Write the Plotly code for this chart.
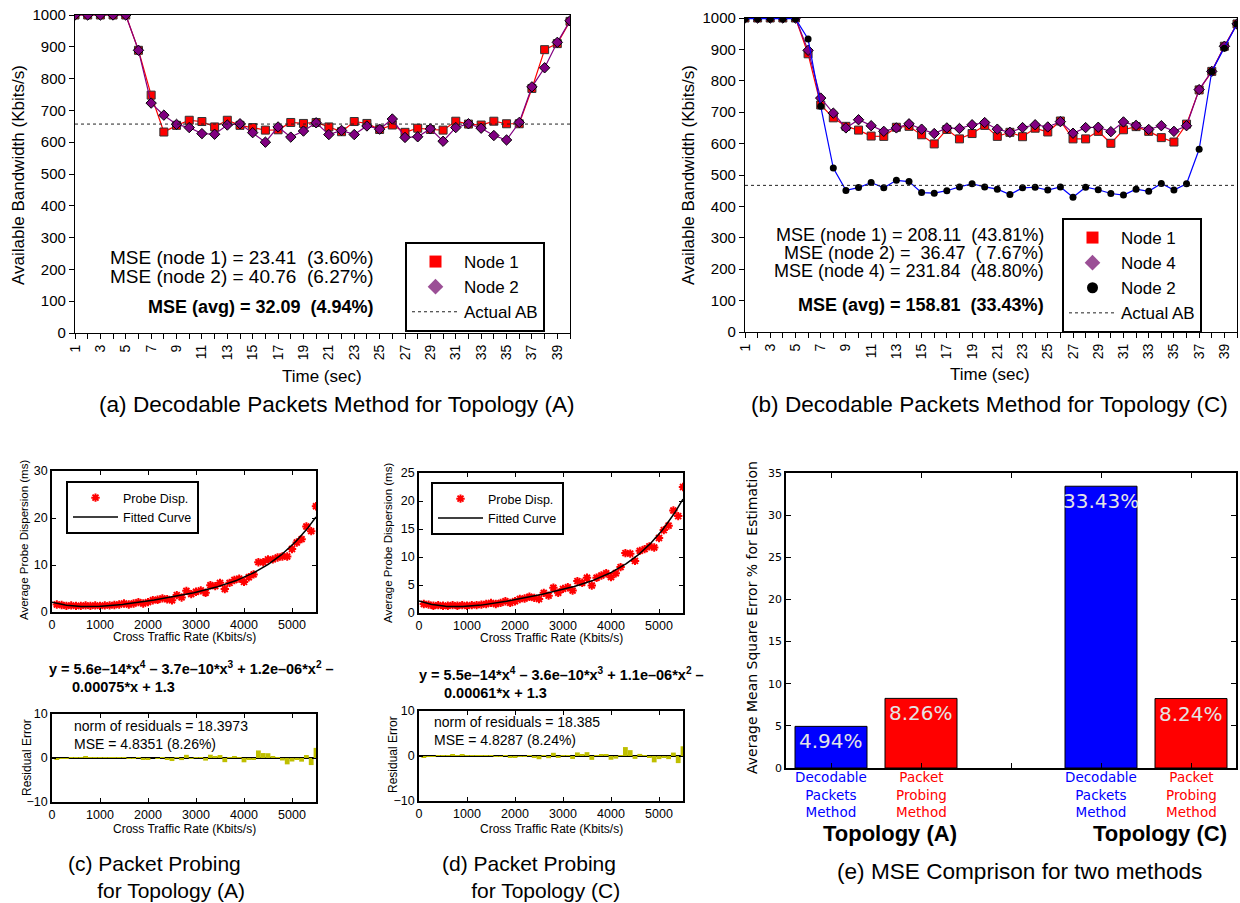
import numpy as np
import plotly.graph_objects as go

W, H = 1240, 903

# ---------------- data ----------------
time_s = list(range(1, 41))
a_node1 = [1000, 1000, 1000, 1000, 1000, 889, 748, 632, 653, 669, 665, 648, 669, 653, 646, 638, 639, 662, 659, 662,
           648, 633, 665, 659, 640, 654, 631, 644, 640, 638, 666, 657, 654, 666, 658, 658, 769, 891, 910, 980]
a_node2 = [1000, 1000, 1000, 1000, 1000, 889, 723, 685, 656, 646, 627, 625, 654, 658, 630, 600, 648, 616, 635, 661,
           624, 637, 624, 651, 641, 673, 615, 617, 642, 603, 646, 658, 644, 621, 607, 662, 774, 834, 914, 982]
a_actual_ab = 657

b_node1 = [1000, 1000, 1000, 1000, 1000, 886, 723, 682, 655, 643, 624, 623, 652, 655, 628, 599, 645, 615, 632, 658,
           623, 636, 622, 649, 637, 672, 615, 615, 639, 601, 644, 654, 639, 619, 605, 662, 771, 830, 910, 981]
b_node4 = [1000, 1000, 1000, 1000, 1000, 897, 745, 697, 650, 676, 657, 639, 650, 663, 646, 632, 650, 648, 660, 667,
           646, 636, 651, 660, 653, 670, 633, 651, 652, 638, 669, 658, 645, 657, 639, 657, 772, 830, 910, 981]
b_node2 = [998, 998, 998, 998, 998, 933, 719, 522, 451, 460, 476, 459, 483, 479, 444, 442, 450, 462, 472, 462,
           455, 438, 459, 461, 452, 462, 429, 461, 453, 441, 436, 455, 448, 473, 452, 472, 582, 830, 904, 981]
b_actual_ab = 467

a_mse_lines = ["MSE (node 1) = 23.41  (3.60%)", "MSE (node 2) = 40.76  (6.27%)"]
a_mse_avg = "MSE (avg) = 32.09  (4.94%)"
b_mse_lines = ["MSE (node 1) = 208.11  (43.81%)", "MSE (node 2) =  36.47  ( 7.67%)",
               "MSE (node 4) = 231.84  (48.80%)"]
b_mse_avg = "MSE (avg) = 158.81  (33.43%)"

cross_rate = list(range(100, 5600, 100))
c_disp = [1.6, 1.5, 1.3, 1.4, 1.3, 1.3, 1.4, 1.3, 1.4, 1.3, 1.4, 1.4, 1.5, 1.6, 1.8, 1.6, 1.8, 2.1, 1.8, 2.1,
          2.5, 2.6, 2.9, 2.7, 2.5, 3.6, 3.1, 4.5, 3.8, 4.3, 4.6, 4.1, 5.7, 5.5, 6.2, 4.9, 6.2, 6.8, 7.1, 6.4,
          7.4, 8.0, 10.6, 10.6, 11.2, 11.2, 11.6, 11.8, 11.8, 13.4, 14.8, 15.5, 18.2, 17.2, 22.5]
d_disp = [1.6, 1.5, 1.3, 1.4, 1.3, 1.3, 1.4, 1.3, 1.4, 1.3, 1.4, 1.4, 1.5, 1.6, 1.8, 1.6, 1.8, 2.1, 1.8, 2.1,
          2.5, 2.6, 2.9, 2.7, 2.5, 3.6, 3.1, 4.5, 3.6, 4.3, 4.6, 4.0, 5.7, 5.4, 6.3, 4.9, 6.3, 6.7, 7.1, 6.4,
          7.1, 8.2, 10.7, 10.6, 9.3, 11.1, 11.4, 11.9, 11.7, 13.4, 14.8, 15.6, 18.3, 17.3, 22.5]
c_equation = ["y = 5.6e\u201314*x<sup>4</sup> \u2013 3.7e\u201310*x<sup>3</sup> + 1.2e\u201306*x<sup>2</sup> \u2013",
              "0.00075*x + 1.3"]
d_equation = ["y = 5.5e\u201314*x<sup>4</sup> \u2013 3.6e\u201310*x<sup>3</sup> + 1.1e\u201306*x<sup>2</sup> \u2013",
              "0.00061*x + 1.3"]
c_resid_text = ["norm of residuals = 18.3973", "MSE = 4.8351 (8.26%)"]
d_resid_text = ["norm of residuals = 18.385", "MSE = 4.8287 (8.24%)"]

methods = ["Decodable Packets Method", "Packet Probing Method"]
topologies = ["Topology (A)", "Topology (C)"]
mse_topo_a = [4.94, 8.26]
mse_topo_c = [33.43, 8.24]

captions = {
    "a": ["(a) Decodable Packets Method for Topology (A)"],
    "b": ["(b) Decodable Packets Method for Topology (C)"],
    "c": ["(c) Packet Probing", "for Topology (A)"],
    "d": ["(d) Packet Probing", "for Topology (C)"],
    "e": ["(e) MSE Comprison for two methods"],
}

# ---------------- helpers ----------------
def X(px):
    return px / W


def Y(py):
    return 1 - py / H


SANS = "Liberation Sans, Arial, sans-serif"
DJV = "DejaVu Sans, sans-serif"
annotations = []


def ann(text, px, py, size, color="black", xanchor="center", yanchor="middle", angle=0, family=SANS,
        align="center"):
    annotations.append(dict(text=text, x=X(px), y=Y(py), xref="paper", yref="paper", showarrow=False,
                            xanchor=xanchor, yanchor=yanchor, textangle=angle, align=align,
                            font=dict(size=size, color=color, family=family)))


def nb(s):
    return s.replace(" ", "\u00a0")


fig = go.Figure()

# ---------------- (a) ----------------
fig.add_trace(go.Scatter(x=time_s, y=a_node1, mode="lines+markers", showlegend=False,
                         line=dict(color="red", width=1.2),
                         marker=dict(symbol="square", size=8, color="red", line=dict(color="#333", width=1)),
                         xaxis="x", yaxis="y"))
fig.add_trace(go.Scatter(x=time_s, y=a_node2, mode="lines+markers", showlegend=False,
                         line=dict(color="#800080", width=1.2),
                         marker=dict(symbol="diamond", size=8, color="#800080", line=dict(color="black", width=1)),
                         xaxis="x", yaxis="y"))
fig.add_trace(go.Scatter(x=[time_s[0], time_s[-1]], y=[a_actual_ab, a_actual_ab], mode="lines", showlegend=False,
                         line=dict(color="#222", width=1, dash="dot"), xaxis="x", yaxis="y"))
# legend proxies
fig.add_trace(go.Scatter(x=[None], y=[None], mode="markers", name="Node 1", legend="legend",
                         marker=dict(symbol="square", size=12, color="red"), xaxis="x", yaxis="y"))
fig.add_trace(go.Scatter(x=[None], y=[None], mode="markers", name="Node 2", legend="legend",
                         marker=dict(symbol="diamond", size=12, color="#9b4f96"), xaxis="x", yaxis="y"))
fig.add_trace(go.Scatter(x=[None], y=[None], mode="lines", name="Actual AB", legend="legend",
                         line=dict(color="#222", width=1, dash="dot"), xaxis="x", yaxis="y"))

# ---------------- (b) ----------------
fig.add_trace(go.Scatter(x=time_s, y=b_node1, mode="lines+markers", showlegend=False,
                         line=dict(color="red", width=1.2),
                         marker=dict(symbol="square", size=8, color="red", line=dict(color="#333", width=1)),
                         xaxis="x2", yaxis="y2"))
fig.add_trace(go.Scatter(x=time_s, y=b_node4, mode="lines+markers", showlegend=False,
                         line=dict(color="#800080", width=1.2),
                         marker=dict(symbol="diamond", size=8, color="#800080", line=dict(color="black", width=1)),
                         xaxis="x2", yaxis="y2"))
fig.add_trace(go.Scatter(x=time_s, y=b_node2, mode="lines+markers", showlegend=False,
                         line=dict(color="blue", width=1.2),
                         marker=dict(symbol="circle", size=7, color="black"),
                         xaxis="x2", yaxis="y2"))
fig.add_trace(go.Scatter(x=[time_s[0], time_s[-1]], y=[b_actual_ab, b_actual_ab], mode="lines", showlegend=False,
                         line=dict(color="#222", width=1, dash="dot"), xaxis="x2", yaxis="y2"))
fig.add_trace(go.Scatter(x=[None], y=[None], mode="markers", name="Node 1", legend="legend2",
                         marker=dict(symbol="square", size=12, color="red"), xaxis="x2", yaxis="y2"))
fig.add_trace(go.Scatter(x=[None], y=[None], mode="markers", name="Node 4", legend="legend2",
                         marker=dict(symbol="diamond", size=12, color="#9b4f96"), xaxis="x2", yaxis="y2"))
fig.add_trace(go.Scatter(x=[None], y=[None], mode="markers", name="Node 2", legend="legend2",
                         marker=dict(symbol="circle", size=11, color="black"), xaxis="x2", yaxis="y2"))
fig.add_trace(go.Scatter(x=[None], y=[None], mode="lines", name="Actual AB", legend="legend2",
                         line=dict(color="#222", width=1, dash="dot"), xaxis="x2", yaxis="y2"))

# ---------------- (c) & (d) ----------------
resid_color = "#bfbf00"
for disp, xa_m, ya_m, xa_r, ya_r, leg in [(c_disp, "x3", "y3", "x4", "y4", "legend3"),
                                            (d_disp, "x5", "y5", "x6", "y6", "legend4")]:
    xs = np.array(cross_rate, dtype=float)
    ys = np.array(disp, dtype=float)
    coef = np.polyfit(xs, ys, 4)
    xf = np.linspace(0, xs.max(), 200)
    fig.add_trace(go.Scatter(x=xs, y=ys, mode="markers", name="Probe Disp.", legend=leg,
                             marker=dict(symbol="asterisk-open", size=7, color="red",
                                         line=dict(color="red", width=2)),
                             xaxis=xa_m, yaxis=ya_m))
    fig.add_trace(go.Scatter(x=xf, y=np.polyval(coef, xf), mode="lines", name="Fitted Curve", legend=leg,
                             line=dict(color="black", width=1.5), xaxis=xa_m, yaxis=ya_m))
    resid = ys - np.polyval(coef, xs)
    fig.add_trace(go.Bar(x=xs, y=resid, width=100, marker=dict(color=resid_color, line=dict(width=0)),
                         showlegend=False, xaxis=xa_r, yaxis=ya_r))

# ---------------- (e) ----------------
bar_colors = ["blue", "red"]
for g, vals in enumerate([mse_topo_a, mse_topo_c]):
    pos = [g * 3 + m + 1 for m in range(len(methods))]
    fig.add_trace(go.Bar(x=pos, y=vals, width=0.8, showlegend=False,
                         marker=dict(color=bar_colors, line=dict(color="black", width=1)),
                         xaxis="x7", yaxis="y7"))
    for p, v, m, col in zip(pos, vals, methods, bar_colors):
        annotations.append(dict(text=f"{v:.2f}%", x=p, y=v, xref="x7", yref="y7", showarrow=False,
                                xanchor="center", yanchor="top", yshift=-1,
                                font=dict(size=20, color="#e4e4e4", family=DJV)))
        annotations.append(dict(text="<br>".join(m.split(" ")), x=p, y=Y(794), xref="x7", yref="paper",
                                showarrow=False, xanchor="center", yanchor="middle",
                                font=dict(size=13.5, color=col, family=DJV)))
    annotations.append(dict(text="<b>" + topologies[g] + "</b>", x=g * 3 + 1.65, y=Y(833), xref="x7",
                            yref="paper", showarrow=False, xanchor="center", yanchor="middle",
                            font=dict(size=22, color="black", family=SANS)))

# ---------------- text annotations ----------------
CAP = 22.6
# (a)
ann(nb(a_mse_lines[0]), 376, 257, 19, xanchor="right")
ann(nb(a_mse_lines[1]), 376, 276, 19, xanchor="right")
ann("<b>" + nb(a_mse_avg) + "</b>", 376, 307, 18, xanchor="right")
ann("Available Bandwidth (Kbits/s)", 18, 175, 17, angle=-90)
ann("Time (sec)", 322, 376, 17)
ann(captions["a"][0], 337, 405, CAP)
# (b)
for i, t in enumerate(b_mse_lines):
    ann(nb(t), 1046, 235 + i * 18, 18, xanchor="right")
ann("<b>" + nb(b_mse_avg) + "</b>", 1046, 305, 18, xanchor="right")
ann("Available Bandwidth (Kbits/s)", 688, 175, 17, angle=-90)
ann("Time (sec)", 990, 374, 17)
ann(captions["b"][0], 989, 405, CAP)
# (c)
ann("Average Probe Dispersion (ms)", 24, 540, 11.5, angle=-90)
ann("Cross Traffic Rate (Kbits/s)", 184, 637, 12)
ann("<b>" + c_equation[0] + "</b>", 47, 668, 14.5, xanchor="left")
ann("<b>" + c_equation[1] + "</b>", 70, 687, 14.5, xanchor="left")
ann(c_resid_text[0] + "<br>" + c_resid_text[1], 72, 735, 14, xanchor="left", align="left")
ann("Residual Error", 27, 758, 12, angle=-90)
ann("Cross Traffic Rate (Kbits/s)", 184, 829, 12)
ann(captions["c"][0] + "<br>" + "\u00a0" * 5 + captions["c"][1], 66, 877, 21, xanchor="left", align="left")
# (d)
ann("Average Probe Dispersion (ms)", 388, 543, 11.5, angle=-90)
ann("Cross Traffic Rate (Kbits/s)", 551, 638, 12)
ann("<b>" + d_equation[0] + "</b>", 417, 674, 14.5, xanchor="left")
ann("<b>" + d_equation[1] + "</b>", 442, 693, 14.5, xanchor="left")
ann(d_resid_text[0] + "<br>" + d_resid_text[1], 432, 731, 14, xanchor="left", align="left")
ann("Residual Error", 393, 755, 12, angle=-90)
ann("Cross Traffic Rate (Kbits/s)", 551, 829, 12)
ann(captions["d"][0] + "<br>" + "\u00a0" * 5 + captions["d"][1], 440, 877, 21, xanchor="left", align="left")
# (e)
ann("Average Mean Square Error % for Estimation", 752, 618, 14, angle=-90, family=DJV)
ann(captions["e"][0], 1019, 871, CAP)

# ---------------- axes ----------------
base = dict(showline=True, linecolor="black", linewidth=1.2, mirror=True, zeroline=False, showgrid=False,
            color="black", automargin=False, tickcolor="black")

layout_axes = {}
for xa, ya, xdom, ydom in [("xaxis", "yaxis", [75, 570], [333, 15]),
                           ("xaxis2", "yaxis2", [745, 1237], [332, 18])]:
    layout_axes[xa] = dict(base, domain=[X(xdom[0]), X(xdom[1])], range=[1, 40], anchor=ya.replace("axis", ""),
                           tickmode="linear", tick0=1, dtick=2, tickangle=-90, ticks="outside", ticklen=5,
                           tickfont=dict(size=14, family=SANS),
                           minor=dict(ticks="outside", ticklen=5, dtick=1, tick0=1, tickcolor="black"))
    layout_axes[ya] = dict(base, domain=[Y(ydom[0]), Y(ydom[1])], range=[0, 1000], dtick=100,
                           anchor=xa.replace("axis", ""), ticks="outside", ticklen=5,
                           tickfont=dict(size=15, family=SANS))

small = dict(size=12.5, family=SANS)
for xa, ya, xdom, ydom, yr, ydt in [("xaxis3", "yaxis3", [52, 316], [612, 471], [0, 30], 10),
                                     ("xaxis4", "yaxis4", [52, 316], [802, 714], [-10, 10], 10),
                                     ("xaxis5", "yaxis5", [419, 683], [613, 473], [0, 25], 5),
                                     ("xaxis6", "yaxis6", [419, 683], [801, 711], [-10, 10], 10)]:
    layout_axes[xa] = dict(base, mirror="ticks", domain=[X(xdom[0]), X(xdom[1])], range=[0, 5500],
                           tickvals=[0, 1000, 2000, 3000, 4000, 5000], ticks="inside", ticklen=4,
                           anchor=ya.replace("axis", ""), tickfont=small, linewidth=1.8)
    layout_axes[ya] = dict(base, mirror="ticks", domain=[Y(ydom[0]), Y(ydom[1])], range=yr, dtick=ydt,
                           ticks="inside", ticklen=4, anchor=xa.replace("axis", ""), tickfont=small,
                           linewidth=1.8)
layout_axes["yaxis4"].update(zeroline=True, zerolinecolor="black", zerolinewidth=1.5)
layout_axes["yaxis6"].update(zeroline=True, zerolinecolor="black", zerolinewidth=1.5)

layout_axes["xaxis7"] = dict(base, mirror="ticks", domain=[X(786), X(1236)], range=[0.5, 5.5],
                             tickvals=[1, 2, 3, 4, 5], showticklabels=False, ticks="inside", ticklen=5,
                             anchor="y7", linewidth=1.8)
layout_axes["yaxis7"] = dict(base, mirror="ticks", domain=[Y(768), Y(473)], range=[0, 35], dtick=5,
                             ticks="inside", ticklen=5, anchor="x7", tickfont=dict(size=11, family=DJV),
                             linewidth=1.8)

leg_common = dict(bordercolor="black", borderwidth=2, bgcolor="white", xanchor="left", yanchor="top",
                  itemclick=False, itemdoubleclick=False)
fig.update_layout(
    template="none",
    width=W, height=H, margin=dict(l=0, r=0, t=0, b=0, autoexpand=False), paper_bgcolor="white",
    plot_bgcolor="white", font=dict(family=SANS, color="black"),
    showlegend=True, barmode="overlay", hovermode=False,
    legend=dict(leg_common, x=X(405), y=Y(242), font=dict(size=17, family=SANS), itemwidth=47),
    legend2=dict(leg_common, x=X(1062), y=Y(218), font=dict(size=17, family=SANS), itemwidth=47),
    legend3=dict(leg_common, x=X(66), y=Y(481), font=dict(size=12.5, family=SANS), itemwidth=45),
    legend4=dict(leg_common, x=X(431), y=Y(482), font=dict(size=12.5, family=SANS), itemwidth=45),
    annotations=annotations,
    **layout_axes,
)

fig.write_html("out.html", config={"displayModeBar": False},
               post_script="document.body.style.margin='0px';document.body.style.overflow='hidden';")
